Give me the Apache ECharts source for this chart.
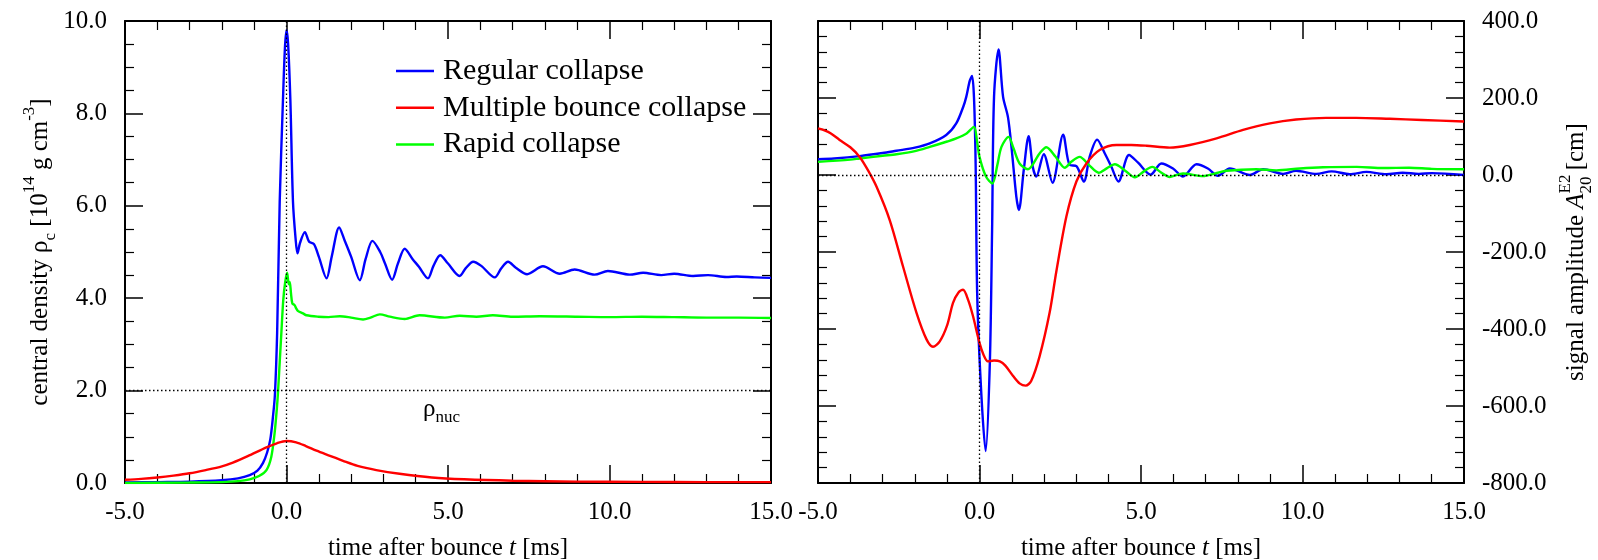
<!DOCTYPE html>
<html>
<head>
<meta charset="utf-8">
<script src="https://cdn.jsdelivr.net/npm/echarts@6/dist/echarts.min.js"></script>
<style>
  html, body { margin: 0; padding: 0; background: #fff; }
  #main { width: 1598px; height: 560px; }
</style>
</head>
<body>
<div id="main"></div>
<script>
// data: [time after bounce (ms), value]
var names = ['Regular collapse', 'Multiple bounce collapse', 'Rapid collapse'];
var colors = ['#0000ff', '#ff0000', '#00ff00'];

// left panel: central density (10^14 g/cm^3)
var rhoRegular = [
  [-5, 0.01], [-4, 0.02], [-3, 0.03], [-2, 0.06], [-1.5, 0.1], [-1.14, 0.17], [-0.9, 0.27],
  [-0.73, 0.43], [-0.6, 0.66], [-0.5, 0.95], [-0.42, 1.43], [-0.36, 1.9], [-0.29, 3.24],
  [-0.21, 6.1], [-0.11, 8.28], [-0.05, 9.4], [0, 9.8], [0.05, 9.5], [0.12, 8.28], [0.2, 6.1],
  [0.28, 5.3], [0.34, 4.97], [0.42, 5.2], [0.57, 5.43], [0.7, 5.22], [0.85, 5.17], [1.0, 4.9],
  [1.24, 4.43], [1.4, 4.9], [1.63, 5.53], [1.8, 5.25], [2.0, 4.9], [2.27, 4.39], [2.45, 4.85],
  [2.66, 5.24], [2.9, 5.0], [3.05, 4.75], [3.27, 4.40], [3.45, 4.75], [3.66, 5.07], [3.9, 4.85],
  [4.1, 4.68], [4.38, 4.43], [4.55, 4.7], [4.76, 4.93], [5.0, 4.75], [5.36, 4.48], [5.55, 4.65],
  [5.78, 4.79], [6.03, 4.70], [6.45, 4.45], [6.65, 4.65], [6.86, 4.79], [7.1, 4.66], [7.45, 4.52],
  [7.94, 4.69], [8.46, 4.53], [8.92, 4.62], [9.54, 4.51], [9.95, 4.59], [10.63, 4.51], [11.04, 4.55],
  [11.6, 4.50], [12.0, 4.53], [12.59, 4.48], [13.05, 4.50], [13.62, 4.46], [13.94, 4.47],
  [14.5, 4.45], [15, 4.44]
];
var rhoMultiple = [
  [-5, 0.07], [-4.5, 0.09], [-4, 0.12], [-3.5, 0.16], [-3, 0.21], [-2.5, 0.28], [-2, 0.36],
  [-1.66, 0.44], [-1.2, 0.58], [-0.62, 0.77], [-0.3, 0.86], [0, 0.91], [0.3, 0.88], [0.6, 0.8],
  [0.93, 0.7], [1.3, 0.6], [1.75, 0.48], [2.2, 0.37], [2.78, 0.28], [3.5, 0.2], [4.5, 0.12],
  [5.5, 0.08], [7, 0.05], [9, 0.03], [11, 0.025], [13, 0.02], [15, 0.02]
];
var rhoRapid = [
  [-5, 0.0], [-3, 0.01], [-2, 0.02], [-1.5, 0.04], [-1.14, 0.08], [-0.85, 0.15], [-0.62, 0.28],
  [-0.47, 0.57], [-0.37, 1.07], [-0.3, 1.6], [-0.26, 2.0], [-0.16, 3.24], [-0.1, 3.96],
  [-0.04, 4.35], [0.02, 4.55], [0.07, 4.3], [0.1, 4.35], [0.14, 4.1], [0.18, 3.89], [0.25, 3.85],
  [0.3, 3.78], [0.36, 3.72], [0.51, 3.67], [0.62, 3.63], [0.98, 3.6], [1.3, 3.59], [1.65, 3.61],
  [2.0, 3.58], [2.37, 3.54], [2.6, 3.58], [2.89, 3.65], [3.2, 3.6], [3.66, 3.55], [4.12, 3.63],
  [4.9, 3.58], [5.36, 3.62], [5.88, 3.6], [6.39, 3.63], [7.0, 3.6], [7.84, 3.61], [9, 3.6],
  [10, 3.59], [11, 3.6], [12, 3.59], [13, 3.58], [14, 3.58], [15, 3.57]
];

// right panel: signal amplitude A20E2 (cm)
var ampRegular = [
  [-5, 41], [-4.5, 43], [-3.71, 49], [-3, 57], [-2.57, 63], [-2, 71], [-1.54, 82], [-1.03, 104],
  [-0.72, 134], [-0.5, 178], [-0.41, 203], [-0.3, 245], [-0.23, 257], [-0.17, 200], [-0.12, 30],
  [-0.07, -315], [0.06, -574], [0.19, -717], [0.32, -488], [0.39, -143], [0.45, 203], [0.59, 326],
  [0.73, 203], [0.88, 151], [0.99, 73], [1.14, -56], [1.22, -91], [1.37, 13], [1.52, 101],
  [1.65, 21], [1.76, -4], [1.99, 54], [2.26, -20], [2.59, 105], [2.79, 26], [3.0, 23], [3.23, -17],
  [3.41, 47], [3.64, 92], [3.88, 56], [4.08, 22], [4.3, -17], [4.63, 52], [4.91, 32], [5.3, 1],
  [5.63, 30], [5.99, 17], [6.3, -4], [6.72, 28], [7.07, 17], [7.38, -2], [7.75, 17], [8.37, 0],
  [8.78, 15], [9.4, 3], [9.8, 11], [10.43, 3], [10.9, 9.5], [11.46, 2], [11.98, 8], [12.6, 2],
  [13.1, 6], [13.6, 3], [14.0, 5], [15, 0]
];
var ampMultiple = [
  [-5, 121], [-4.8, 116], [-4.6, 108], [-4.33, 91], [-4, 72], [-3.71, 47], [-3.45, 12], [-3.19, -30],
  [-2.78, -117], [-2.37, -237], [-1.95, -358], [-1.64, -427], [-1.44, -446], [-1.23, -432],
  [-1.0, -390], [-0.82, -332], [-0.65, -305], [-0.51, -298], [-0.35, -325], [-0.2, -367],
  [0, -436], [0.13, -468], [0.26, -484], [0.45, -482], [0.63, -484], [0.8, -495], [1.04, -522],
  [1.25, -542], [1.43, -547], [1.6, -535], [1.86, -471], [2.17, -358], [2.38, -250],
  [2.69, -108], [3.0, -17], [3.31, 30], [3.72, 65], [4.24, 78], [4.7, 78], [5.17, 76],
  [5.89, 71], [6.51, 78], [7.34, 95], [8.16, 117], [8.99, 134], [9.8, 144], [10.73, 148.5],
  [11.66, 148.5], [12.7, 146], [13.7, 143], [15, 139]
];
var ampRapid = [
  [-5, 34], [-4, 40], [-3.71, 43], [-3, 50], [-2.57, 54], [-2, 62], [-1.54, 73], [-1, 87],
  [-0.72, 95], [-0.4, 108], [-0.17, 125], [-0.08, 90], [0, 47], [0.2, -4], [0.4, -22],
  [0.55, 25], [0.68, 73], [0.9, 99], [1.05, 70], [1.24, 30], [1.5, 15], [1.86, 56], [2.07, 72],
  [2.35, 48], [2.64, 19], [2.85, 35], [3.1, 47], [3.4, 25], [3.69, 6], [3.95, 18], [4.19, 28],
  [4.5, 12], [4.81, -6], [5.1, 10], [5.35, 21], [5.6, 8], [5.89, -5], [6.3, 4], [6.92, -3],
  [7.3, 4], [7.65, 11], [8.57, 15], [9.19, 12], [9.92, 17], [10.64, 20], [11.68, 21], [12.5, 18],
  [13.3, 19], [14.0, 16], [15, 15]
];

var serif = "'Liberation Serif', 'Times New Roman', serif";
var myChart = echarts.init(document.getElementById('main'));

function fmt(v) { return v.toFixed(1); }

// value axis with inside ticks; showLabels decides whether this side carries numbers
function makeX(gridIndex, position, showLabels, withName) {
  return {
    type: 'value', gridIndex: gridIndex, position: position,
    min: -5, max: 15, interval: 5,
    axisLine: { show: true, onZero: false, lineStyle: { color: '#000', width: 2 } },
    axisTick: { inside: true, length: 18, lineStyle: { color: '#000', width: 1.5 } },
    minorTick: { show: true, splitNumber: 5, length: 9, lineStyle: { color: '#000', width: 1.2 } },
    splitLine: { show: false },
    axisLabel: { show: showLabels, formatter: fmt, margin: 17, fontFamily: serif, fontSize: 25, color: '#000', showMinLabel: true, showMaxLabel: true },
    name: withName ? '{a|time after bounce }{i|t}{a| [ms]}' : '',
    nameLocation: 'middle', nameGap: 53,
    nameTextStyle: {
      rich: {
        a: { fontFamily: serif, fontSize: 25, color: '#000' },
        i: { fontFamily: serif, fontSize: 25, fontStyle: 'italic', color: '#000' }
      }
    }
  };
}

function makeY(gridIndex, position, min, max, interval, minorSplit, showLabels, name, gap) {
  return {
    type: 'value', gridIndex: gridIndex, position: position,
    min: min, max: max, interval: interval,
    axisLine: { show: true, onZero: false, lineStyle: { color: '#000', width: 2 } },
    axisTick: { inside: true, length: 18, lineStyle: { color: '#000', width: 1.5 } },
    minorTick: { show: true, splitNumber: minorSplit, length: 9, lineStyle: { color: '#000', width: 1.2 } },
    splitLine: { show: false },
    axisLabel: { show: showLabels, formatter: fmt, margin: 18, fontFamily: serif, fontSize: 25, color: '#000', showMinLabel: true, showMaxLabel: true },
    name: name || '', nameLocation: 'middle', nameRotate: 90, nameGap: gap || 0,
    nameTextStyle: {
      rich: {
        a: { fontFamily: serif, fontSize: 25, lineHeight: 38, color: '#000' },
        i: { fontFamily: serif, fontSize: 25, lineHeight: 38, fontStyle: 'italic', color: '#000' },
        sub: { fontFamily: serif, fontSize: 17, lineHeight: 18, verticalAlign: 'bottom', color: '#000' },
        sup: { fontFamily: serif, fontSize: 17, lineHeight: 18, verticalAlign: 'top', color: '#000' },
        sub2: { fontFamily: serif, fontSize: 17, lineHeight: 18, verticalAlign: 'bottom', color: '#000', padding: [0, 0, 0, -19] }
      }
    }
  };
}

function line(name, color, data, xi, yi, mark) {
  var s = {
    name: name, type: 'line', xAxisIndex: xi, yAxisIndex: yi,
    data: data, showSymbol: false, symbol: 'none', smooth: 0.3,
    lineStyle: { color: color, width: 2.4 }, itemStyle: { color: color }
  };
  if (mark) {
    s.markLine = {
      silent: true, symbol: 'none', label: { show: false },
      lineStyle: { color: '#000', type: [1.5, 2.5], width: 1.3 },
      data: mark
    };
  }
  return s;
}

option = {
  animation: false,
  grid: [
    { left: 125, top: 21, width: 646, height: 462, outerBoundsMode: 'none' },
    { left: 818, top: 21, width: 646, height: 462, outerBoundsMode: 'none' }
  ],
  legend: {
    orient: 'vertical', left: 391, top: 51,
    itemWidth: 38, itemHeight: 2.5, itemGap: 6.7, icon: 'rect',
    textStyle: { fontFamily: serif, fontSize: 30, lineHeight: 30, color: '#000', padding: [0, 0, 0, 4] },
    data: names
  },
  xAxis: [
    makeX(0, 'bottom', true, true),
    makeX(0, 'top', false, false),
    makeX(1, 'bottom', true, true),
    makeX(1, 'top', false, false)
  ],
  yAxis: [
    makeY(0, 'left', 0, 10, 2, 4, true,
      '{a|central density ρ}{sub|c}{a| [10}{sup|14}{a| g cm}{sup|-3}{a|]}', 63),
    makeY(0, 'right', 0, 10, 2, 4, false),
    makeY(1, 'left', -800, 400, 200, 5, false),
    makeY(1, 'right', -800, 400, 200, 5, true,
      '{a|signal amplitude }{i|A}{sup|E2}{sub2|20}{a| [cm]}', 93)
  ],
  graphic: [{
    type: 'text', left: 423, top: 397, silent: true,
    style: {
      text: '{r|ρ}{s|nuc}',
      rich: {
        r: { fontFamily: serif, fontSize: 25, lineHeight: 28, fill: '#000' },
        s: { fontFamily: serif, fontSize: 17, lineHeight: 18, verticalAlign: 'bottom', fill: '#000', padding: [0, 0, -3, 0] }
      }
    }
  }],
  series: [
    line(names[0], colors[0], rhoRegular, 0, 0, [{ xAxis: 0 }, { yAxis: 2 }]),
    line(names[2], colors[2], rhoRapid, 0, 0),
    line(names[1], colors[1], rhoMultiple, 0, 0),
    line(names[0], colors[0], ampRegular, 2, 3, [{ xAxis: 0 }, { yAxis: 0 }]),
    line(names[2], colors[2], ampRapid, 2, 3),
    line(names[1], colors[1], ampMultiple, 2, 3)
  ]
};

myChart.setOption(option);
</script>
</body>
</html>
